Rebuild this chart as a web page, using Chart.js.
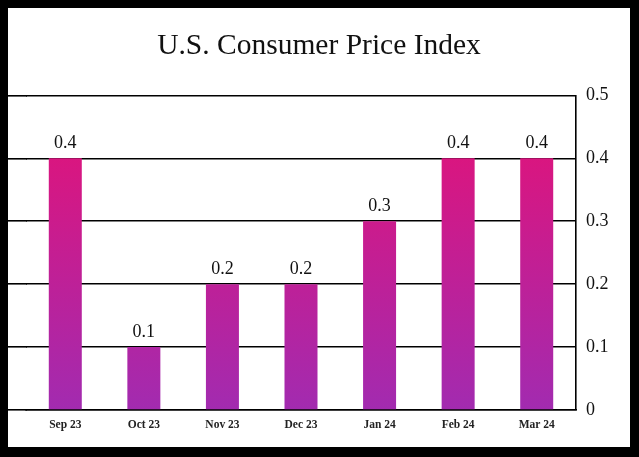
<!DOCTYPE html>
<html>
<head>
<meta charset="utf-8">
<script src="https://cdn.jsdelivr.net/npm/chart.js@4"></script>
<style>
  html, body { margin: 0; padding: 0; background: #000; }
  #wrap { position: absolute; left: 8px; top: 8px; width: 622px; height: 439px; background: #fff; }
  canvas { display: block; }
</style>
</head>
<body>
<div id="wrap"><canvas id="c" width="622" height="439"></canvas></div>
<script>
const categories = ["Sep 23", "Oct 23", "Nov 23", "Dec 23", "Jan 24", "Feb 24", "Mar 24"];
const cpiValues = [0.4, 0.1, 0.2, 0.2, 0.3, 0.4, 0.4];
const yTicks = [0, 0.1, 0.2, 0.3, 0.4, 0.5];
const titleText = "U.S. Consumer Price Index";

const SERIF = "'Liberation Serif', 'DejaVu Serif', serif";
const GRID_W = 1.6;

function barGradient(ctx) {
  const chart = ctx.chart;
  const area = chart.chartArea;
  if (!area) return '#C01E9A';
  const y = chart.scales.y;
  const g = chart.ctx.createLinearGradient(0, y.getPixelForValue(0.4), 0, y.getPixelForValue(0));
  g.addColorStop(0, 'rgb(217,22,128)');
  g.addColorStop(1, 'rgb(162,43,176)');
  return g;
}

const extendGrid = {
  id: 'extendGrid',
  beforeDatasetsDraw(chart) {
    const c = chart.ctx, y = chart.scales.y, a = chart.chartArea;
    c.save();
    c.strokeStyle = '#000';
    c.lineWidth = GRID_W;
    y.ticks.forEach(t => {
      const raw = y.getPixelForValue(t.value);
      const py = Math.round(raw - GRID_W / 2) + GRID_W / 2;
      c.beginPath();
      c.moveTo(0, py);
      c.lineTo(a.left + 1, py);
      c.stroke();
    });
    c.restore();
  }
};

const valueLabels = {
  id: 'valueLabels',
  afterDatasetsDraw(chart) {
    const c = chart.ctx;
    const meta = chart.getDatasetMeta(0);
    c.save();
    c.font = "18px " + SERIF;
    c.fillStyle = '#111';
    c.textAlign = 'center';
    c.textBaseline = 'bottom';
    meta.data.forEach((bar, i) => {
      c.fillText(String(chart.data.datasets[0].data[i]), bar.x, bar.y - 6);
    });
    c.restore();
  }
};

new Chart(document.getElementById('c'), {
  type: 'bar',
  data: {
    labels: categories,
    datasets: [{
      data: cpiValues,
      backgroundColor: barGradient,
      borderWidth: 0,
      categoryPercentage: 1,
      barPercentage: 0.42,
      yAxisID: 'y'
    }]
  },
  options: {
    responsive: false,
    animation: false,
    layout: { padding: 0 },
    plugins: {
      legend: { display: false },
      tooltip: { enabled: false },
      title: {
        display: true,
        text: titleText,
        color: '#111',
        font: { family: SERIF, size: 29.5, weight: 'normal' },
        padding: { top: 21, bottom: 31 }
      }
    },
    scales: {
      x: {
        offset: true,
        grid: { display: false, drawTicks: false },
        border: { display: true, color: '#000', width: GRID_W },
        ticks: { color: '#222', font: { family: SERIF, size: 11.5, weight: 'bold' }, padding: 8, maxRotation: 0 },
        afterFit(s) { s.height = 37; }
      },
      y: {
        position: 'right',
        min: 0,
        max: 0.5,
        afterBuildTicks(s) { s.ticks = yTicks.map(v => ({ value: v })); },
        grid: { color: '#000', lineWidth: GRID_W, drawTicks: false },
        border: { display: true, color: '#000', width: GRID_W },
        ticks: { color: '#111', font: { family: SERIF, size: 18 }, padding: 10,
                 callback: v => String(v) },
        afterFit(s) { s.width = 54; }
      },
      leftSpace: {
        position: 'left',
        display: true,
        min: 0,
        max: 0.5,
        grid: { display: false, drawTicks: false },
        border: { display: false },
        ticks: { display: false },
        afterFit(s) { s.width = 18; }
      }
    }
  },
  plugins: [extendGrid, valueLabels]
});
</script>
</body>
</html>
